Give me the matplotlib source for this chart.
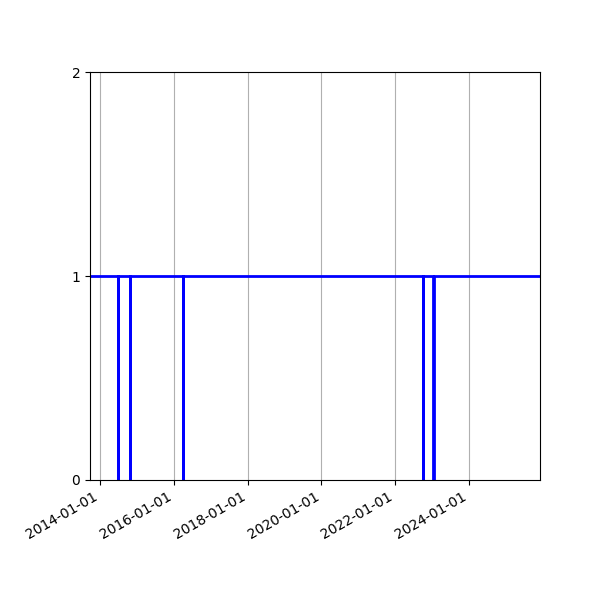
import matplotlib
matplotlib.use("Agg")
import matplotlib.pyplot as plt
import matplotlib.dates as mdates
import pandas as pd

# status samples: 1 = up, 0 = down
dates = ["2013-09-23", "2014-06-24", "2014-06-26", "2014-10-21", "2014-10-23",
         "2016-04-01", "2016-04-03", "2022-10-01", "2022-10-03",
         "2023-01-15", "2023-01-17", "2025-12-05"]
status = [1, 0, 1, 0, 1, 0, 1, 0, 1, 0, 1, 1]


def main() -> None:
    """Draw the up/down status as a step line."""
    x = pd.to_datetime(dates)

    fig, ax = plt.subplots(figsize=(6, 6), dpi=100)
    ax.plot(x, status, color="blue", linewidth=2, drawstyle="steps-post")

    ax.set_xlim(x[0], x[-1])
    ax.set_ylim(0, 2)
    ax.set_yticks([0, 1, 2])
    ax.xaxis.set_major_locator(mdates.YearLocator(2))
    ax.xaxis.set_major_formatter(mdates.DateFormatter("%Y-%m-%d"))
    ax.grid(axis="x")

    fig.autofmt_xdate()
    fig.subplots_adjust(left=0.15, right=0.9, top=0.88, bottom=0.2)
    fig.savefig("out.png")


if __name__ == "__main__":
    main()
